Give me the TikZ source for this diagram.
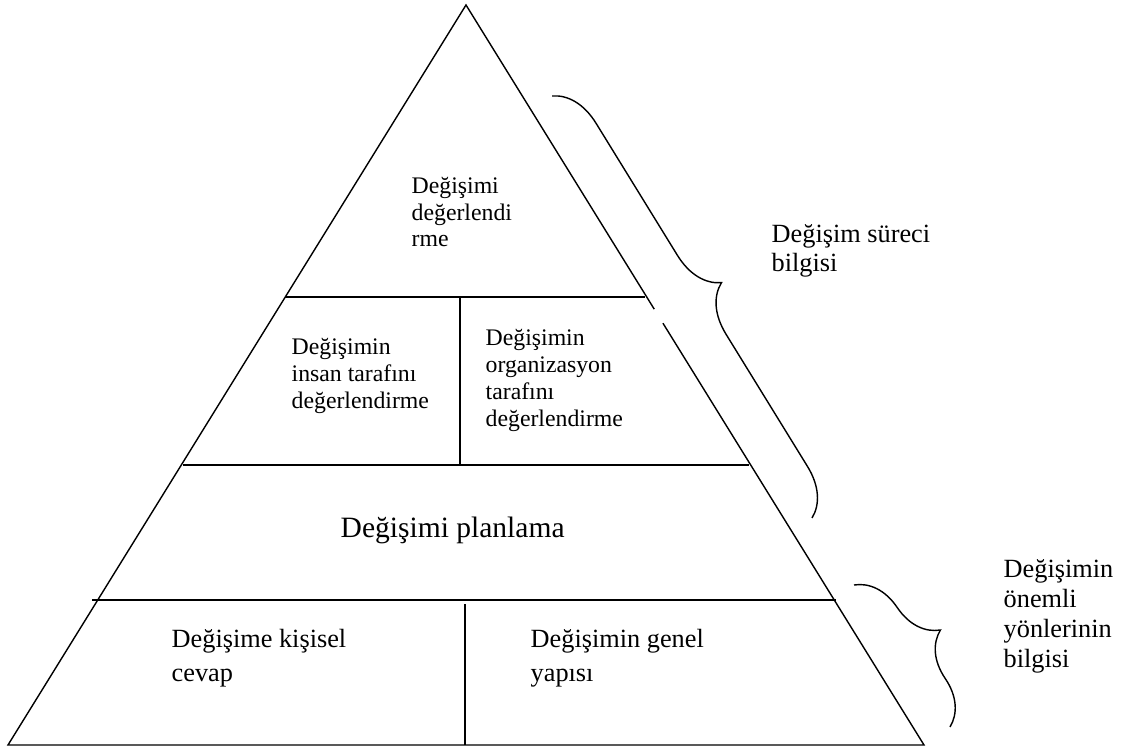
\documentclass[tikz,border=0pt]{standalone}
\usepackage{fontspec}
\setmainfont{Liberation Serif}
\usetikzlibrary{calc,decorations.pathreplacing}

\tikzset{
  kucuk/.style={anchor=base west, align=left, inner sep=0pt, font=\fontsize{16.9}{19.2}\selectfont},
  orta/.style={anchor=base west, align=left, inner sep=0pt, font=\fontsize{18.7}{21.3}\selectfont},
  alt/.style={orta, font=\fontsize{18.7}{23.5}\selectfont},
  buyuk/.style={anchor=base west, inner sep=0pt, font=\fontsize{21}{25}\selectfont},
  ayrac/.style={decorate, decoration={brace, amplitude=33pt}}
}

\begin{document}
\begin{tikzpicture}[x=0.025cm, y=-0.025cm, line width=1pt]
  \useasboundingbox (0,0) rectangle (1131,754);
  % piramit
  \coordinate (tepe) at (466,5);
  \coordinate (sol) at (8,745);
  \coordinate (sag) at (924,745);
  \coordinate (k1) at ($(tepe)!0.411!(sag)$);
  \coordinate (k2) at ($(tepe)!0.430!(sag)$);
  \draw (k1) -- (tepe) -- (sol) -- (sag) -- (k2);
  % katlar
  \draw (285,297) -- (645,297);
  \draw (183,465) -- (749,465);
  \draw[line width=1.3pt] (92,600) -- (836,600);
  \draw (460,297) -- (460,465);
  \draw (465,604) -- (465,745);
  % yazilar (son satirin tabanina gore)
  \node[kucuk] (ust) at (411,247) {Değişimi\\değerlendi\\rme};
  \node[kucuk] (insan) at (291,408) {Değişimin\\insan tarafını\\değerlendirme};
  \node[kucuk] (orgut) at (485,426) {Değişimin\\organizasyon\\tarafını\\değerlendirme};
  \node[buyuk] (plan) at (340,537) {Değişimi planlama};
  \node[alt] (kisisel) at (171,681) {Değişime kişisel\\cevap};
  \node[alt] (genel) at (530,681) {Değişimin genel\\yapısı};
  % ayraclar
  \coordinate (u1) at (552,96);
  \coordinate (u2) at (812,518);
  \draw[ayrac] (u1) -- (u2);
  \node[orta] (surec) at (771,272) {Değişim süreci\\bilgisi};
  \coordinate (a1) at (854,585);
  \coordinate (a2) at (950,727);
  \draw[ayrac] (a1) -- (a2);
  \node[orta] (onemli) at (1003,667) {Değişimin\\önemli\\yönlerinin\\bilgisi};
\end{tikzpicture}
\end{document}
